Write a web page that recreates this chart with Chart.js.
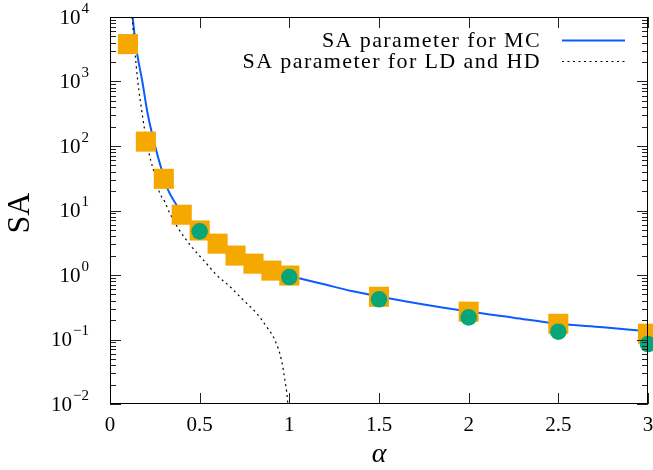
<!DOCTYPE html>
<html>
<head>
<meta charset="utf-8">
<script src="https://cdn.jsdelivr.net/npm/chart.js@4.4.0/dist/chart.umd.min.js"></script>
<style>
  html, body { margin: 0; padding: 0; background: #fff; }
  #wrap { width: 653px; height: 470px; }
</style>
</head>
<body>
<div id="wrap"><canvas id="c" width="653" height="470"></canvas></div>
<script>
// SA vs alpha, log scale
const mcAlpha = [0.126, 0.146, 0.180, 0.211, 0.254, 0.286, 0.323, 0.370, 0.40, 0.50, 0.60, 0.70, 0.80, 0.90, 1.00, 1.06, 1.20, 1.34, 1.50, 1.75, 2.00, 2.25, 2.50, 2.75, 3.00];
const mcSA    = [10000, 3350, 1010, 308, 93.6, 44.7, 21, 12.3, 9.0, 4.9, 3.05, 2.0, 1.5, 1.17, 0.97, 0.88, 0.71, 0.57, 0.465, 0.35, 0.272, 0.218, 0.175, 0.155, 0.134];

const ldhdAlpha = [0.124, 0.137, 0.155, 0.180, 0.211, 0.249, 0.277, 0.304, 0.332, 0.379, 0.454, 0.528, 0.593, 0.668, 0.742, 0.817, 0.873, 0.919, 0.956, 0.975, 0.988, 0.995];
const ldhdSA    = [10000, 3350, 1010, 308, 93.6, 36, 18.7, 13.9, 9.25, 5.36, 2.77, 1.62, 1.01, 0.664, 0.412, 0.256, 0.158, 0.0986, 0.0482, 0.0236, 0.013, 0.007];

const sqAlpha = [0.1, 0.2, 0.3, 0.4, 0.5, 0.6, 0.7, 0.8, 0.9, 1.0, 1.5, 2.0, 2.5, 3.0];
const sqSA    = [3800, 117, 31, 8.6, 4.9, 3.06, 2.0, 1.5, 1.17, 0.98, 0.46, 0.27, 0.175, 0.123];

const circAlpha = [0.5, 1.0, 1.5, 2.0, 2.5, 3.0];
const circSA    = [4.75, 0.93, 0.42, 0.22, 0.132, 0.085];

const xTicks = [0, 0.5, 1, 1.5, 2, 2.5, 3];
const xTickLabels = ['0', '0.5', '1', '1.5', '2', '2.5', '3'];
const yExps = [-2, -1, 0, 1, 2, 3, 4];
const legendLabels = ['SA parameter for MC', 'SA parameter for LD and HD'];

const BLUE = '#0a5cff', ORANGE = '#f5a800', GREEN = '#06a678';
const SERIF = '"Liberation Serif", "DejaVu Serif", serif';

const pts = (xs, ys) => xs.map((x, i) => ({ x, y: ys[i] }));
const supNum = n => String(n).replace('-', '\u2212');

// gnuplot-like frame: inward ticks on all sides, 10^n labels, titles, legend
const gnuplotFrame = {
  id: 'gnuplotFrame',
  afterDraw(chart) {
    const { ctx, chartArea: a, scales: { x, y } } = chart;
    ctx.save();

    ctx.strokeStyle = '#222'; ctx.lineWidth = 1;
    ctx.beginPath();
    xTicks.forEach(v => {
      const px = Math.round(x.getPixelForValue(v)) + 0.5;
      ctx.moveTo(px, a.bottom); ctx.lineTo(px, a.bottom - 11);
      ctx.moveTo(px, a.top); ctx.lineTo(px, a.top + 11);
    });
    yExps.forEach(e => {
      for (let m = 1; m <= 9; m++) {
        const v = m * Math.pow(10, e);
        if (v > 1e4 * 1.0001) break;
        const py = Math.round(y.getPixelForValue(v)) + 0.5;
        const len = m === 1 ? 11 : 6;
        ctx.moveTo(a.left, py); ctx.lineTo(a.left + len, py);
        ctx.moveTo(a.right, py); ctx.lineTo(a.right - len, py);
      }
    });
    ctx.stroke();

    ctx.strokeStyle = '#000';
    ctx.strokeRect(a.left + 0.5, a.top + 0.5, a.right - a.left - 1, a.bottom - a.top - 1);

    // x tick labels
    ctx.fillStyle = '#000';
    ctx.font = '21px ' + SERIF;
    ctx.textAlign = 'center'; ctx.textBaseline = 'middle';
    xTicks.forEach((v, i) => ctx.fillText(xTickLabels[i], x.getPixelForValue(v), 425));

    // y tick labels 10^e
    yExps.forEach(e => {
      const py = y.getPixelForValue(Math.pow(10, e));
      ctx.font = '15px ' + SERIF;
      const es = supNum(e);
      const ew = ctx.measureText(es).width;
      ctx.textAlign = 'left'; ctx.textBaseline = 'middle';
      ctx.fillText(es, 89 - ew, py - 8);
      ctx.font = '21px ' + SERIF;
      ctx.textAlign = 'right';
      ctx.fillText('10', 89 - ew - 1, py + 1);
    });

    // axis titles
    ctx.font = '32px ' + SERIF;
    ctx.textAlign = 'center'; ctx.textBaseline = 'middle';
    ctx.save();
    ctx.translate(21, 213);
    ctx.rotate(-Math.PI / 2);
    ctx.fillText('SA', 0, 0);
    ctx.restore();
    ctx.font = 'italic 28px ' + SERIF;
    ctx.fillText('\u03b1', (a.left + a.right) / 2, 455);

    // legend
    ctx.font = '22px ' + SERIF;
    ctx.letterSpacing = '1.4px';
    ctx.textAlign = 'right'; ctx.textBaseline = 'middle';
    const rows = [40, 61];
    legendLabels.forEach((t, i) => {
      ctx.fillText(t, 541, rows[i] + 1);
      const ds = chart.data.datasets[i];
      ctx.beginPath();
      ctx.strokeStyle = ds.borderColor;
      ctx.lineWidth = ds.borderWidth;
      ctx.setLineDash(ds.borderDash || []);
      ctx.moveTo(562, rows[i] + 0.5); ctx.lineTo(625, rows[i] + 0.5);
      ctx.stroke();
      ctx.setLineDash([]);
    });
    ctx.letterSpacing = '0px';
    ctx.restore();
  }
};

new Chart(document.getElementById('c'), {
  type: 'scatter',
  data: {
    datasets: [
      { label: legendLabels[0], data: pts(mcAlpha, mcSA), showLine: true, borderColor: BLUE, borderWidth: 2,
        pointRadius: 0, cubicInterpolationMode: 'monotone', order: 3 },
      { label: legendLabels[1], data: pts(ldhdAlpha, ldhdSA), showLine: true, borderColor: '#000', borderWidth: 1.2,
        borderDash: [2, 3.5], pointRadius: 0, cubicInterpolationMode: 'monotone', order: 2 },
      { label: 'squares', data: pts(sqAlpha, sqSA), pointStyle: 'rect', pointRadius: 14.2, pointBorderWidth: 0,
        backgroundColor: ORANGE, borderColor: ORANGE, clip: false, order: 1 },
      { label: 'circles', data: pts(circAlpha, circSA), pointStyle: 'circle', pointRadius: 8.3, pointBorderWidth: 0,
        backgroundColor: GREEN, borderColor: GREEN, clip: false, order: 0 }
    ]
  },
  options: {
    responsive: false, animation: false, devicePixelRatio: 1,
    layout: { autoPadding: false, padding: { left: 0, right: 5, top: 17, bottom: 0 } },
    plugins: { legend: { display: false }, tooltip: { enabled: false } },
    scales: {
      x: {
        type: 'linear', min: 0, max: 3,
        grid: { display: false }, border: { display: false },
        ticks: { display: false },
        afterFit: s => { s.height = 66; }
      },
      y: {
        type: 'logarithmic', min: 0.01, max: 10000,
        grid: { display: false }, border: { display: false },
        ticks: { display: false },
        afterFit: s => { s.width = 110; }
      }
    }
  },
  plugins: [gnuplotFrame]
});
</script>
</body>
</html>
